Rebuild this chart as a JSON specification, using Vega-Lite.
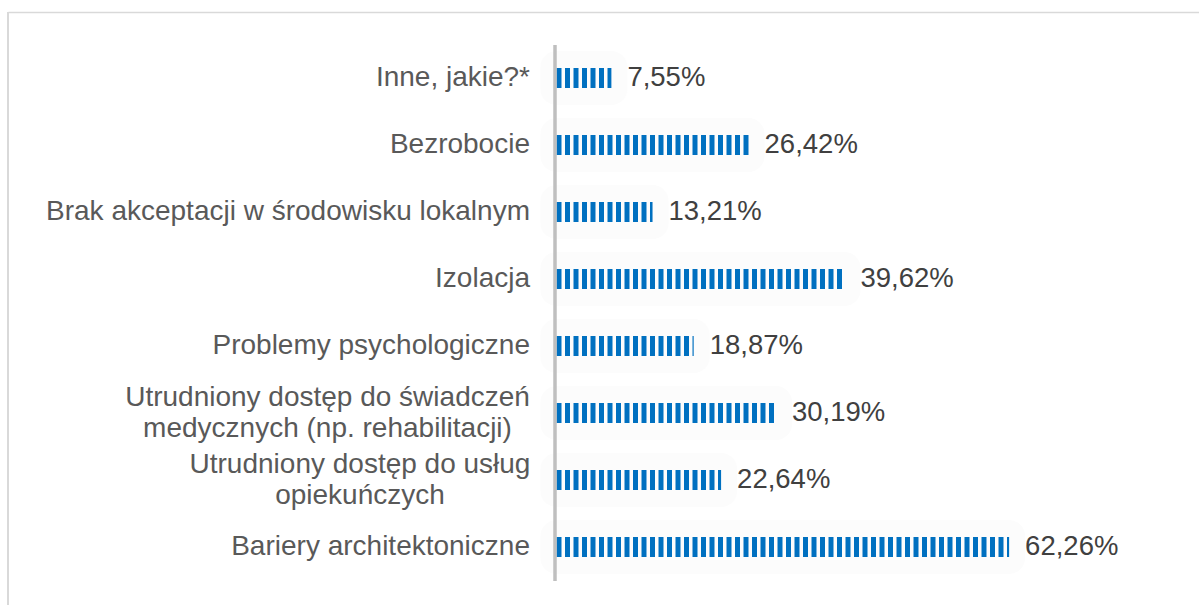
{
  "$schema": "https://vega.github.io/schema/vega-lite/v6.json",
  "width": 1191,
  "height": 593,
  "autosize": "none",
  "padding": {"left": 8, "top": 12, "right": 0, "bottom": 0},
  "background": "white",
  "config": {
    "view": {"stroke": null},
    "font": "Liberation Sans"
  },
  "title": {
    "text": "w gminie?",
    "anchor": "start",
    "frame": "group",
    "orient": "top",
    "baseline": "alphabetic",
    "offset": 5,
    "dx": -1,
    "dy": 6,
    "fontSize": 26,
    "fontWeight": "normal",
    "color": "#262626",
    "font": "Liberation Sans"
  },
  "data": {
    "values": [
      {"kategoria": "Inne, jakie?*", "wartosc": 7.55},
      {"kategoria": "Bezrobocie", "wartosc": 26.42},
      {"kategoria": "Brak akceptacji w środowisku lokalnym", "wartosc": 13.21},
      {"kategoria": "Izolacja", "wartosc": 39.62},
      {"kategoria": "Problemy psychologiczne", "wartosc": 18.87},
      {"kategoria": "Utrudniony dostęp do świadczeń medycznych (np. rehabilitacji)", "wartosc": 30.19},
      {"kategoria": "Utrudniony dostęp do usług opiekuńczych", "wartosc": 22.64},
      {"kategoria": "Bariery architektoniczne", "wartosc": 62.26}
    ]
  },
  "transform": [
    {"calculate": "replace(format(datum.wartosc, '.2f'), '.', ',') + '%'", "as": "etykieta"},
    {"calculate": "datum.kategoria == 'Utrudniony dostęp do świadczeń medycznych (np. rehabilitacji)' ? ['Utrudniony dostęp do świadczeń', 'medycznych (np. rehabilitacji)'] : datum.kategoria == 'Utrudniony dostęp do usług opiekuńczych' ? ['Utrudniony dostęp do usług', 'opiekuńczych'] : datum.kategoria", "as": "linie"}
  ],
  "layer": [
    {
      "mark": {"type": "bar", "color": "#fcfcfc", "height": 22, "stroke": "#fcfcfc", "strokeWidth": 32, "strokeJoin": "round"},
      "encoding": {
        "y": {
          "field": "kategoria",
          "type": "nominal",
          "sort": null,
          "scale": {"range": [32.5, 568.5], "paddingInner": 0, "paddingOuter": 0},
          "axis": {
            "title": null,
            "orient": "left",
            "offset": -546.5,
            "zindex": 1,
            "domain": true,
            "domainColor": "#bfbfbf",
            "domainWidth": 3.5,
            "ticks": false,
            "labels": false,
            "grid": false
          }
        },
        "x": {
          "field": "wartosc",
          "type": "quantitative",
          "scale": {"domain": [-75.45, 88.38], "nice": false, "zero": false},
          "axis": {
            "orient": "top",
            "title": null,
            "labels": false,
            "ticks": false,
            "grid": false,
            "domain": true,
            "domainColor": "#d9d9d9",
            "domainWidth": 1.5
          }
        }
      }
    },
    {
      "mark": {"type": "rule", "color": "#d9d9d9", "strokeWidth": 1.5},
      "encoding": {
        "x": {"datum": -75.45, "type": "quantitative"}
      }
    },
    {
      "mark": {"type": "rule", "color": "#0070C0", "strokeWidth": 20, "strokeDash": [5, 3.5], "strokeCap": "butt",
        "strokeDashOffset": {"expr": "(5 - (scale('x', datum.wartosc) - scale('x', 0))) % 8.5"}},
      "encoding": {
        "y": {"field": "kategoria", "type": "nominal", "sort": null},
        "x": {"field": "wartosc", "type": "quantitative"},
        "x2": {"datum": 0}
      }
    },
    {
      "mark": {"type": "text", "align": "left", "baseline": "middle", "dx": 16, "fontSize": 27.5, "color": "#404040", "font": "Liberation Sans"},
      "encoding": {
        "y": {"field": "kategoria", "type": "nominal", "sort": null},
        "x": {"field": "wartosc", "type": "quantitative"},
        "text": {"field": "etykieta", "type": "nominal"}
      }
    },
    {
      "transform": [{"filter": "indexof(datum.kategoria, 'Utrudniony') != 0"}],
      "mark": {"type": "text", "align": "right", "baseline": "middle", "dx": -26.5, "fontSize": 28, "color": "#595959", "font": "Liberation Sans"},
      "encoding": {
        "y": {"field": "kategoria", "type": "nominal", "sort": null},
        "x": {"datum": 0, "type": "quantitative"},
        "text": {"field": "linie", "type": "nominal"}
      }
    },
    {
      "transform": [{"filter": "datum.kategoria == 'Utrudniony dostęp do świadczeń medycznych (np. rehabilitacji)'"}],
      "mark": {"type": "text", "align": "center", "baseline": "middle", "dx": -229, "dy": -15.5, "lineHeight": 31, "fontSize": 28, "color": "#595959", "font": "Liberation Sans"},
      "encoding": {
        "y": {"field": "kategoria", "type": "nominal", "sort": null},
        "x": {"datum": 0, "type": "quantitative"},
        "text": {"field": "linie", "type": "nominal"}
      }
    },
    {
      "transform": [{"filter": "datum.kategoria == 'Utrudniony dostęp do usług opiekuńczych'"}],
      "mark": {"type": "text", "align": "center", "baseline": "middle", "dx": -196.5, "dy": -15.5, "lineHeight": 31, "fontSize": 28, "color": "#595959", "font": "Liberation Sans"},
      "encoding": {
        "y": {"field": "kategoria", "type": "nominal", "sort": null},
        "x": {"datum": 0, "type": "quantitative"},
        "text": {"field": "linie", "type": "nominal"}
      }
    }
  ]
}
